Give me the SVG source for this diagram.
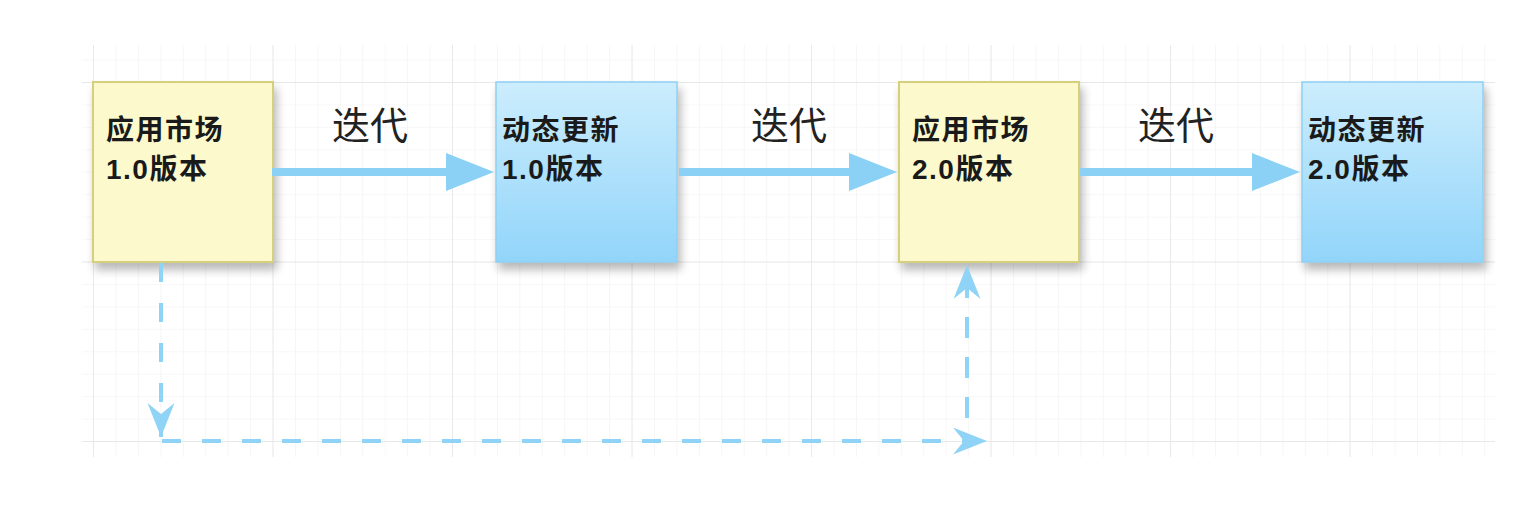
<svg xmlns="http://www.w3.org/2000/svg" width="1540" height="512" viewBox="0 0 1540 512">
  <defs>
    <pattern id="minor" patternUnits="userSpaceOnUse" x="93" y="82" width="22.44" height="22.44">
      <path d="M0 0 H22.44 M0 0 V22.44" fill="none" stroke="#f0f0f0" stroke-width="1.2"/>
    </pattern>
    <pattern id="major" patternUnits="userSpaceOnUse" x="93" y="82" width="179.5" height="179.5">
      <path d="M0 0 H179.5 M0 0 V179.5" fill="none" stroke="#e4e4e4" stroke-width="1.4"/>
    </pattern>
    <linearGradient id="blueFill" x1="0" y1="0" x2="0" y2="1">
      <stop offset="0" stop-color="#ccedfd"/>
      <stop offset="1" stop-color="#92d5fa"/>
    </linearGradient>
    <filter id="shadow" x="-20%" y="-20%" width="150%" height="150%">
      <feGaussianBlur in="SourceAlpha" stdDeviation="5"/>
      <feOffset dx="3" dy="7" result="b"/>
      <feComponentTransfer><feFuncA type="linear" slope="0.28"/></feComponentTransfer>
      <feMerge><feMergeNode/><feMergeNode in="SourceGraphic"/></feMerge>
    </filter>
    <marker id="solidHead" markerUnits="userSpaceOnUse" markerWidth="50" markerHeight="40" refX="0" refY="19" orient="auto">
      <path d="M0 0 L48 19 L0 38 Z" fill="#8bd0f5"/>
    </marker>
    <marker id="stealth" markerUnits="userSpaceOnUse" markerWidth="36" markerHeight="28" refX="34" refY="13.5" orient="auto">
      <path d="M0 0 L34 13.5 L0 27 L11 13.5 Z" fill="#8fd3f7"/>
    </marker>
  </defs>
  <style>
    .yellow { fill: #fcf9cd; stroke: #d6d07c; stroke-width: 2; }
    .blue { fill: url(#blueFill); stroke: #8fd0f2; stroke-width: 1.5; }
    .ntext { font-family: "Liberation Sans", "Noto Sans CJK SC", sans-serif; font-weight: bold; font-size: 28px; fill: #1a1a1a; letter-spacing: 1.5px; }
    .elabel { font-family: "Noto Sans CJK SC", sans-serif; font-size: 38px; fill: #222; text-anchor: middle; }
    .solid { fill: none; stroke: #8bd0f5; stroke-width: 8; stroke-linecap: butt; }
    .dash { fill: none; stroke: #8fd3f7; stroke-width: 4; stroke-dasharray: 19 21; }
  </style>
  <rect width="1540" height="512" fill="#ffffff"/>
  <g id="grid">
    <rect x="82" y="45" width="1413" height="412" fill="url(#minor)"/>
    <rect x="82" y="45" width="1413" height="412" fill="url(#major)"/>
  </g>
  <g id="node-app-1">
    <rect class="yellow" x="93" y="82" width="180" height="180" filter="url(#shadow)"/>
    <text class="ntext" x="106" y="140">应用市场</text>
    <text class="ntext" x="106" y="179">1.0版本</text>
  </g>
  <g id="node-dyn-1">
    <rect class="blue" x="496" y="82" width="181" height="180" filter="url(#shadow)"/>
    <text class="ntext" x="502" y="140">动态更新</text>
    <text class="ntext" x="502" y="179">1.0版本</text>
  </g>
  <g id="node-app-2">
    <rect class="yellow" x="899" y="82" width="180" height="180" filter="url(#shadow)"/>
    <text class="ntext" x="912" y="140">应用市场</text>
    <text class="ntext" x="912" y="179">2.0版本</text>
  </g>
  <g id="node-dyn-2">
    <rect class="blue" x="1302" y="82" width="181" height="180" filter="url(#shadow)"/>
    <text class="ntext" x="1308" y="140">动态更新</text>
    <text class="ntext" x="1308" y="179">2.0版本</text>
  </g>
  <g id="connectors">
    <path class="solid" d="M272 172 H446" marker-end="url(#solidHead)"/>
    <path class="solid" d="M679 172 H849" marker-end="url(#solidHead)"/>
    <path class="solid" d="M1080 172 H1252" marker-end="url(#solidHead)"/>
    <text class="elabel" x="370" y="139">迭代</text>
    <text class="elabel" x="789" y="139">迭代</text>
    <text class="elabel" x="1176" y="139">迭代</text>
    <path class="dash" d="M161 263 V437" marker-end="url(#stealth)"/>
    <path class="dash" d="M162 441 H987" marker-end="url(#stealth)"/>
    <path class="dash" d="M967 418 V265" marker-end="url(#stealth)" style="stroke-dasharray:21 19"/>
  </g>
</svg>
